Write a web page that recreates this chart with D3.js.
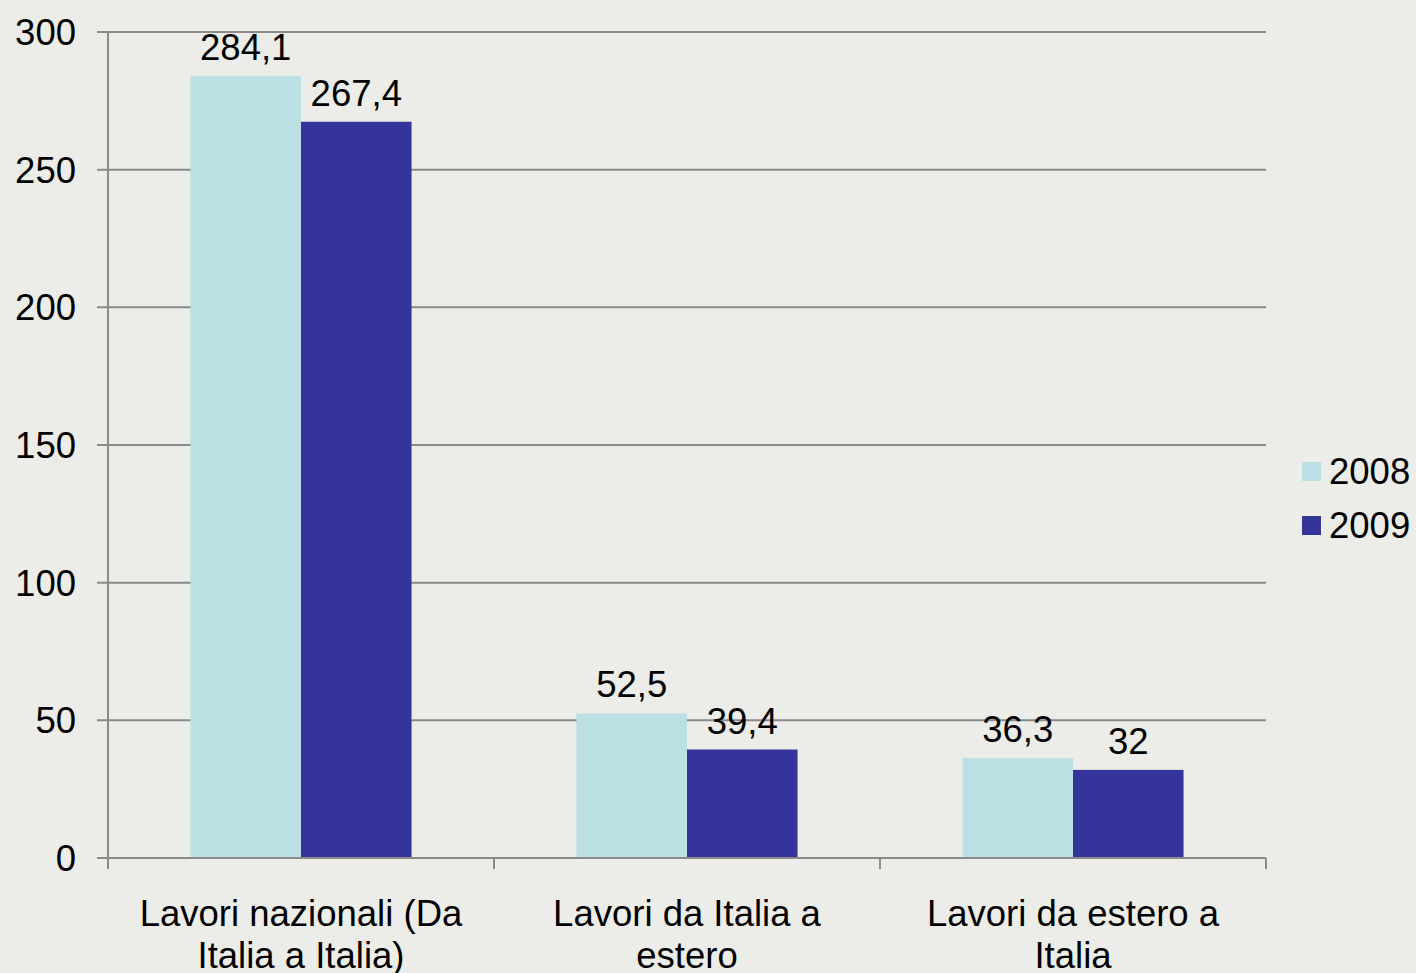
<!DOCTYPE html>
<html><head><meta charset="utf-8">
<script src="https://cdn.jsdelivr.net/npm/d3@7"></script>
<style>
html,body{margin:0;padding:0;background:#ececE8;}
svg{display:block;}
text{font-family:"Liberation Sans",Arial,sans-serif;fill:#000;}
</style></head>
<body>
<svg id="c" width="1416" height="973"></svg>
<script>
const categories = [["Lavori nazionali (Da","Italia a Italia)"],["Lavori da Italia a","estero"],["Lavori da estero a","Italia"]];
const seriesNames = ["2008","2009"];
const values2008 = [284.1, 52.5, 36.3];
const values2009 = [267.4, 39.4, 32];
const labels2008 = ["284,1","52,5","36,3"];
const labels2009 = ["267,4","39,4","32"];
const yTicks = [0,50,100,150,200,250,300];
const colors = ["#bcdfe3","#35349a"];

(function(){
const svg = d3.select("#c");
svg.append("rect").attr("width",1416).attr("height",973).attr("fill","#ececE8");
const pLeft=108, pRight=1266, pTop=32, pBottom=858;
const fs = 36.5;
const y = d3.scaleLinear().domain([0,300]).range([pBottom,pTop]);
const x0 = d3.scaleBand().domain(d3.range(categories.length)).range([pLeft,pRight]).padding(0);
const x1 = d3.scaleBand().domain(seriesNames).range([0,x0.bandwidth()]).paddingInner(0).paddingOuter(0.746);

// gridlines
svg.append("g").selectAll("line").data(yTicks.filter(d=>d>0)).join("line")
  .attr("x1",pLeft-11).attr("x2",pRight).attr("y1",d=>y(d)).attr("y2",d=>y(d))
  .attr("stroke","#8a8a8a").attr("stroke-width",2);
// y tick labels
svg.append("g").selectAll("text").data(yTicks).join("text")
  .attr("x",pLeft-32).attr("y",d=>y(d)).attr("dy","0.36em")
  .attr("text-anchor","end").attr("font-size",fs).text(d=>d);

// bars
const data = categories.map((c,i)=>({i, vals:[
  {s:seriesNames[0], v:values2008[i], l:labels2008[i]},
  {s:seriesNames[1], v:values2009[i], l:labels2009[i]}]}));
const g = svg.append("g").selectAll("g").data(data).join("g")
  .attr("transform",d=>`translate(${x0(d.i)},0)`);
g.selectAll("rect").data(d=>d.vals).join("rect")
  .attr("x",d=>x1(d.s)).attr("width",x1.bandwidth())
  .attr("y",d=>y(d.v)).attr("height",d=>pBottom-y(d.v))
  .attr("fill",(d,j)=>colors[j]);
g.selectAll("text").data(d=>d.vals).join("text")
  .attr("x",d=>x1(d.s)+x1.bandwidth()/2).attr("y",d=>y(d.v)-16)
  .attr("text-anchor","middle").attr("font-size",fs).text(d=>d.l);

// axes lines
svg.append("line").attr("x1",pLeft).attr("x2",pLeft).attr("y1",pTop).attr("y2",pBottom+10)
  .attr("stroke","#8a8a8a").attr("stroke-width",2);
svg.append("line").attr("x1",pLeft-11).attr("x2",pRight).attr("y1",pBottom).attr("y2",pBottom)
  .attr("stroke","#8a8a8a").attr("stroke-width",2);
const bounds = d3.range(categories.length+1).map(i=> i<categories.length ? x0(i) : pRight);
svg.append("g").selectAll("line").data(bounds).join("line")
  .attr("x1",d=>d).attr("x2",d=>d).attr("y1",pBottom).attr("y2",pBottom+11)
  .attr("stroke","#8a8a8a").attr("stroke-width",2);

// category labels
const cl = svg.append("g").selectAll("text").data(categories).join("text")
  .attr("text-anchor","middle").attr("font-size",fs)
  .attr("transform",(d,i)=>`translate(${x0(i)+x0.bandwidth()/2},0)`);
cl.selectAll("tspan").data(d=>d).join("tspan")
  .attr("x",0).attr("y",(d,k)=>926+k*42).text(d=>d);

// legend
const lg = svg.append("g").selectAll("g").data(seriesNames).join("g")
  .attr("transform",(d,i)=>`translate(1302,${462+i*54})`);
lg.append("rect").attr("width",19).attr("height",19).attr("fill",(d,i)=>colors[i]);
lg.append("text").attr("x",27).attr("y",22).attr("font-size",fs).text(d=>d);
})();
</script>
</body></html>
